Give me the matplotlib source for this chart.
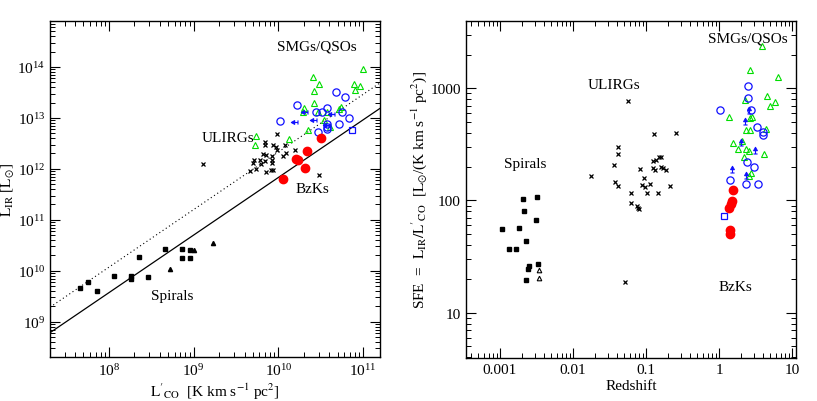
import matplotlib
matplotlib.use('Agg')
import matplotlib.pyplot as plt
from matplotlib.path import Path
import numpy as np

plt.rcParams['font.family'] = ['Liberation Serif', 'DejaVu Serif']
plt.rcParams['mathtext.fontset'] = 'stix'

# ---- panel 1 : L'CO vs LIR (log10 values) ----
spiral_sq_lco = [7.66, 7.76, 7.86, 8.06, 8.26, 8.26, 8.36, 8.46, 8.66, 8.86, 8.86, 8.96, 8.96]
spiral_sq_lir = [9.67, 9.79, 9.61, 9.89, 9.89, 9.84, 10.27, 9.88, 10.42, 10.43, 10.25, 10.40, 10.25]
spiral_tr_lco = [8.72, 9.01, 9.23]
spiral_tr_lir = [10.03, 10.40, 10.55]

ulirg_lco = [9.11, 9.98, 9.84, 9.84, 9.94, 9.97, 10.08, 9.98, 10.09, 10.20, 9.82, 9.86, 9.92, 10.05,
             9.71, 9.78, 9.84, 9.92, 9.70, 9.79, 9.92, 9.74, 9.67, 9.85, 9.91, 9.94, 10.48]
ulirg_lir = [12.10, 12.68, 12.53, 12.47, 12.46, 12.42, 12.46, 12.36, 12.31, 12.37, 12.29, 12.27, 12.25, 12.25,
             12.18, 12.17, 12.15, 12.17, 12.12, 12.09, 12.11, 11.99, 11.95, 11.94, 11.98, 11.98, 11.87]

bzk_lco = [10.50, 10.34, 10.21, 10.235, 10.32, 10.06]
bzk_lir = [12.61, 12.35, 12.20, 12.18, 12.02, 11.80]

smg_tr_lco = [11.00, 10.41, 10.48, 10.42, 10.89, 10.96, 10.90, 10.42, 10.30, 10.29, 10.47, 10.58,
              10.72, 10.74, 10.54, 10.61, 10.35, 10.13, 9.74, 9.72]
smg_tr_lir = [13.96, 13.81, 13.66, 13.53, 13.66, 13.62, 13.55, 13.29, 13.19, 13.12, 13.11, 13.11,
              13.17, 13.22, 12.95, 12.83, 12.77, 12.58, 12.65, 12.47]
qso_ci_lco = [10.68, 10.79, 10.22, 10.44, 10.51, 10.57, 10.75, 10.84, 10.02, 10.58, 10.72, 10.57, 10.47, 10.58]
qso_ci_lir = [13.50, 13.40, 13.25, 13.11, 13.11, 13.19, 13.11, 13.00, 12.94, 12.88, 12.88, 12.78, 12.72, 12.83]
lim_lco = [10.31, 10.20, 10.42, 10.63, 10.58]
lim_lir = [13.12, 12.91, 12.95, 13.08, 12.86]
sq_lco = [10.87]
sq_lir = [12.76]

# ---- panel 2 : redshift vs SFE (log10 values) ----
spiral_sq_z = [-2.497, -2.681, -2.671, -2.507, -2.977, -2.744, -2.644, -2.881, -2.781, -2.479, -2.598, -2.621, -2.644]
spiral_sq_sfe = [2.030, 2.009, 1.905, 1.827, 1.742, 1.754, 1.635, 1.567, 1.564, 1.438, 1.417, 1.388, 1.288]
spiral_tr_z = [-2.466, -2.466]
spiral_tr_sfe = [1.384, 1.309]

ulirg_z = [-1.25, -0.886, -0.589, -1.384, -1.388, -1.438, -1.758, -1.082, -0.90, -0.863, -0.818, -0.79,
           -0.908, -0.881, -0.79, -0.763, -0.726, -1.027, -1.055, -1.018, -0.945, -0.671, -1.425, -1.384,
           -1.205, -0.99, -0.84, -1.205, -1.127, -1.11, -1.092, -1.283]
ulirg_sfe = [2.887, 2.597, 2.602, 2.477, 2.415, 2.314, 2.216, 2.279, 2.353, 2.362, 2.388, 2.386,
             2.288, 2.273, 2.299, 2.29, 2.276, 2.201, 2.134, 2.121, 2.148, 2.13, 2.166, 2.128,
             2.068, 2.065, 2.068, 1.982, 1.955, 1.932, 1.926, 1.27]

bzk_z = [0.196, 0.178, 0.164, 0.141, 0.155, 0.155]
bzk_sfe = [2.092, 1.999, 1.970, 1.931, 1.737, 1.698]

smg_tr_z = [0.589, 0.429, 0.808, 0.356, 0.662, 0.763, 0.699, 0.141, 0.429, 0.452, 0.370, 0.425, 0.644,
            0.187, 0.315, 0.256, 0.370, 0.407, 0.612, 0.343, 0.407, 0.442]
smg_tr_sfe = [3.377, 3.163, 3.104, 2.893, 2.935, 2.878, 2.843, 2.745, 2.739, 2.742, 2.626, 2.629, 2.641,
              2.513, 2.528, 2.460, 2.460, 2.437, 2.413, 2.392, 2.219, 2.246]
qso_ci_z = [0.401, 0.401, 0.014, 0.443, 0.516, 0.598, 0.598, 0.384, 0.484, 0.147, 0.370, 0.530]
qso_ci_sfe = [3.024, 2.911, 2.807, 2.807, 2.653, 2.606, 2.582, 2.344, 2.294, 2.187, 2.145, 2.145]
lim_z = [0.415, 0.356, 0.297, 0.489, 0.174, 0.37]
lim_sfe = [2.798, 2.70, 2.51, 2.437, 2.27, 2.219]
sq_z = [0.073]
sq_sfe = [1.863]

# fit lines: log LIR = 1.13 log L'CO + 0.53 (+0.5 for the dotted one)
fit_slope, fit_icpt, sb_offset = 1.13, 0.53, 0.5


def p10(v):
    return 10 ** np.asarray(v)


# custom arrow markers (limits)
left_arrow = Path([(-1, 0), (-0.2, 0.45), (-0.2, -0.45), (-1, 0), (-0.2, 0), (0.6, 0), (0.6, 0.5), (0.6, -0.5)],
                  [Path.MOVETO, Path.LINETO, Path.LINETO, Path.CLOSEPOLY, Path.MOVETO, Path.LINETO, Path.MOVETO, Path.LINETO])
up_arrow = Path([(0, 1), (-0.45, 0.2), (0.45, 0.2), (0, 1), (0, 0.2), (0, -0.6), (-0.5, -0.6), (0.5, -0.6)],
                [Path.MOVETO, Path.LINETO, Path.LINETO, Path.CLOSEPOLY, Path.MOVETO, Path.LINETO, Path.MOVETO, Path.LINETO])

fig = plt.figure(figsize=(8.17, 4.02), dpi=100)
ax1 = fig.add_axes([0.0612, 0.1095, 0.4039, 0.8358])
ax2 = fig.add_axes([0.5700, 0.1070, 0.4043, 0.8383])

green = '#00dd00'
blue = '#1010ff'

# ---- left panel ----
xl = np.array([10 ** 7.306, 10 ** 11.2])
ax1.plot(xl, 10 ** (fit_slope * np.log10(xl) + fit_icpt), color='k', lw=0.9)
ax1.plot(xl, 10 ** (fit_slope * np.log10(xl) + fit_icpt + sb_offset), color='k', lw=0.8, ls=(0, (1, 2.5)))

ax1.plot(p10(spiral_sq_lco), p10(spiral_sq_lir), 's', color='k', ms=3.0, ls='none')
ax1.plot(p10(spiral_tr_lco), p10(spiral_tr_lir), '^', color='k', ms=3.0, ls='none')
ax1.plot(p10(ulirg_lco), p10(ulirg_lir), 'x', color='k', ms=3.0, mew=0.9, ls='none')
ax1.plot(p10(smg_tr_lco), p10(smg_tr_lir), '^', mfc='none', mec=green, ms=4.2, mew=0.8, ls='none')
ax1.plot(p10(qso_ci_lco), p10(qso_ci_lir), 'o', mfc='none', mec=blue, ms=5.2, mew=0.9, ls='none')
ax1.plot(p10(sq_lco), p10(sq_lir), 's', mfc='none', mec=blue, ms=4.5, mew=0.9, ls='none')
ax1.plot(p10(lim_lco), p10(lim_lir), marker=left_arrow, color=blue, ms=6, mew=0.8, ls='none')
ax1.plot(p10(bzk_lco), p10(bzk_lir), 'o', color='red', ms=6, ls='none')

ax1.set_xscale('log')
ax1.set_yscale('log')
ax1.set_xlim(10 ** 7.306, 10 ** 11.2)
ax1.set_ylim(10 ** 8.31, 10 ** 14.9)
ax1.set_yticks([1e9, 1e10, 1e11, 1e12, 1e13, 1e14])
ax1.set_xticks([1e8, 1e9, 1e10, 1e11])
ax1.set_xlabel(r"$\mathrm{L'_{CO}}$  [K km s$^{-1}$ pc$^2$]", fontsize=11, labelpad=2)
ax1.set_ylabel(r"$\mathrm{L_{IR}}$ [$\mathrm{L_{\odot}}$]", fontsize=11, labelpad=1)

ax1.text(10 ** 9.98, 10 ** 14.35, 'SMGs/QSOs', fontsize=11)
ax1.text(10 ** 9.1, 10 ** 12.55, 'ULIRGs', fontsize=11)
ax1.text(10 ** 10.2, 10 ** 11.55, 'BzKs', fontsize=11)
ax1.text(10 ** 8.5, 10 ** 9.45, 'Spirals', fontsize=11)

# ---- right panel ----
ax2.plot(p10(spiral_sq_z), p10(spiral_sq_sfe), 's', color='k', ms=3.0, ls='none')
ax2.plot(p10(spiral_tr_z), p10(spiral_tr_sfe), '^', mfc='none', mec='k', ms=3.3, mew=0.8, ls='none')
ax2.plot(p10(ulirg_z), p10(ulirg_sfe), 'x', color='k', ms=3.0, mew=0.9, ls='none')
ax2.plot(p10(smg_tr_z), p10(smg_tr_sfe), '^', mfc='none', mec=green, ms=4.2, mew=0.8, ls='none')
ax2.plot(p10(qso_ci_z), p10(qso_ci_sfe), 'o', mfc='none', mec=blue, ms=5.2, mew=0.9, ls='none')
ax2.plot(p10(sq_z), p10(sq_sfe), 's', mfc='none', mec=blue, ms=4.5, mew=0.9, ls='none')
ax2.plot(p10(lim_z), p10(lim_sfe), marker=up_arrow, color=blue, ms=6, mew=0.8, ls='none')
ax2.plot(p10(bzk_z), p10(bzk_sfe), 'o', color='red', ms=6, ls='none')

ax2.set_xscale('log')
ax2.set_yscale('log')
ax2.set_xlim(10 ** -3.47, 10 ** 1.055)
ax2.set_ylim(10 ** 0.596, 10 ** 3.6)
ax2.set_xticks([0.001, 0.01, 0.1, 1, 10])
ax2.set_xticklabels(['0.001', '0.01', '0.1', '1', '10'])
ax2.set_yticks([10, 100, 1000])
ax2.set_yticklabels(['10', '100', '1000'])
ax2.set_xlabel('Redshift', fontsize=11, labelpad=2)
ax2.set_ylabel(r"SFE  =  $\mathrm{L_{IR}/L'_{CO}}$  [$\mathrm{L_{\odot}}$/(K km s$^{-1}$ pc$^2$)]",
               fontsize=11, labelpad=1)

ax2.text(10 ** -0.15, 10 ** 3.42, 'SMGs/QSOs', fontsize=11)
ax2.text(10 ** -1.8, 10 ** 3.0, 'ULIRGs', fontsize=11)
ax2.text(10 ** -2.95, 10 ** 2.3, 'Spirals', fontsize=11)
ax2.text(10 ** 0.0, 10 ** 1.2, 'BzKs', fontsize=11)

for ax in (ax1, ax2):
    ax.tick_params(which='both', direction='in', top=True, right=True, labelsize=11)
    ax.tick_params(which='major', length=7, width=0.8)
    ax.tick_params(which='minor', length=3.5, width=0.7)
    for s in ax.spines.values():
        s.set_linewidth(1.0)
    ax.xaxis.set_minor_locator(matplotlib.ticker.LogLocator(base=10, subs=np.arange(2, 10), numticks=20))
    ax.yaxis.set_minor_locator(matplotlib.ticker.LogLocator(base=10, subs=np.arange(2, 10), numticks=20))
    ax.xaxis.set_minor_formatter(matplotlib.ticker.NullFormatter())
    ax.yaxis.set_minor_formatter(matplotlib.ticker.NullFormatter())

plt.savefig('out.png', dpi=100)
plt.close()
